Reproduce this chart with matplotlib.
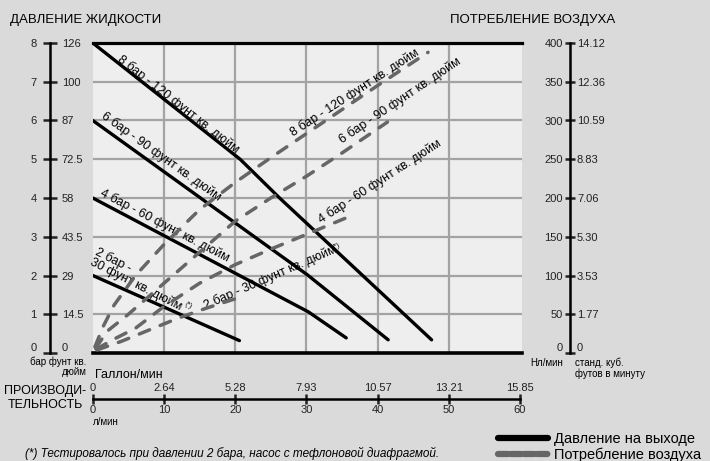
import matplotlib
matplotlib.use("Agg")
import matplotlib.pyplot as plt
from matplotlib.lines import Line2D

plt.rcParams["font.family"] = ["Liberation Sans", "DejaVu Sans"]

W, H = 710, 461

# scales
flow_lpm = [0, 10, 20, 30, 40, 50, 60]
flow_gpm = ["0", "2.64", "5.28", "7.93", "10.57", "13.21", "15.85"]
bar_ticks = [0, 1, 2, 3, 4, 5, 6, 7, 8]
psi_labels = ["0", "14.5", "29", "43.5", "58", "72.5", "87", "100", "126"]
air_ticks = [0, 50, 100, 150, 200, 250, 300, 350, 400]
scfm_labels = ["0", "1.77", "3.53", "5.30", "7.06", "8.83", "10.59", "12.36", "14.12"]

# outlet pressure curves (flow l/min, bar)
p8_flow = [0, 20.7, 26.3, 47.6]
p8_bar = [8, 5.0, 3.99, 0.34]
p6_flow = [0, 30.2, 41.5]
p6_bar = [6, 2.01, 0.34]
p4_flow = [0, 30.3, 35.6]
p4_bar = [4, 1.06, 0.39]
p2_flow = [0, 20.6]
p2_bar = [2, 0.32]

# air consumption curves (flow l/min, Nl/min)
a8_flow = [0.3, 1.5, 3, 6, 10, 15, 20, 25, 30, 35, 40, 47.1]
a8_air = [8, 35, 62, 100, 140, 185, 220, 252, 283, 314, 345, 388]
a6_flow = [0.4, 2, 5, 10, 15, 20, 25, 30, 35, 41.4]
a6_air = [6, 28, 50, 90, 130, 170, 200, 228, 258, 298]
a4_flow = [0.5, 3, 6, 10, 15, 20, 25, 30, 35.5]
a4_air = [5, 18, 32, 60, 90, 114, 134, 153, 174]
a2_flow = [0.6, 4, 8, 12, 16, 20.7]
a2_air = [4, 15, 30, 45, 58, 72]

BG = "#dadada"
PLOT_BG = "#eeeeee"
AIR = "#666666"
INK = "#222222"


def px_box(x0, y0, x1, y1):
    return [x0 / W, 1 - y1 / H, (x1 - x0) / W, (y1 - y0) / H]


def ftext(x, y, s, **kw):
    kw.setdefault("va", "center")
    return fig.text(x / W, 1 - y / H, s, **kw)


def bare(a):
    a.patch.set_visible(False)
    for s in a.spines.values():
        s.set_visible(False)


fig = plt.figure(figsize=(W / 100, H / 100), dpi=100, facecolor=BG)

# main chart
ax = fig.add_axes(px_box(92.8, 43, 522, 353))
ax.set_facecolor(PLOT_BG)
ax.set_xlim(0, 60.3)
ax.set_ylim(0, 8)
ax.set_xticks(flow_lpm[1:-1])
ax.set_yticks(bar_ticks[1:-1])
ax.grid(True, color="#a3a3a3", lw=1.6)
ax.set_axisbelow(True)
ax.tick_params(length=0, labelbottom=False, labelleft=False)
ax.spines["left"].set_visible(False)
ax.spines["right"].set_visible(False)
ax.spines["top"].set_linewidth(2.3)
ax.spines["bottom"].set_linewidth(2.6)

pk = dict(color="black", lw=2.4, solid_capstyle="round", zorder=3)
ax.plot(p8_flow, p8_bar, **pk)
ax.plot(p6_flow, p6_bar, **pk)
ax.plot(p4_flow, p4_bar, **pk)
ax.plot(p2_flow, p2_bar, **pk)

axA = ax.twinx()
axA.set_ylim(0, 400)
axA.axis("off")
ak = dict(color=AIR, lw=2.5, dash_capstyle="round", dashes=(3.2, 3.3))
axA.plot(a8_flow, a8_air, **ak)
axA.plot(a6_flow, a6_air, **ak)
axA.plot(a4_flow, a4_air, **ak)
axA.plot(a2_flow, a2_air, **ak)

# curve labels
lk = dict(fontsize=9, ha="center", va="center", rotation_mode="anchor", zorder=5)
ax.text(12.0, 6.43, "8 бар - 120 фунт кв. дюйм", rotation=-38, **lk)
ax.text(9.6, 5.06, "6 бар - 90 фунт кв. дюйм", rotation=-35.5, **lk)
ax.text(10.1, 3.28, "4 бар - 60 фунт кв. дюйм", rotation=-27.5, **lk)
ax.text(2.9, 2.4, "2 бар -", rotation=-27, **lk)
ax.text(6.1, 1.78, "30 фунт кв. дюйм", rotation=-27, **lk)
ax.text(13.4, 1.23, "(*)", fontsize=5, rotation=-27, ha="center", va="center")
ax.text(36.8, 6.71, "8 бар - 120 фунт кв. дюйм", rotation=33, **lk)
ax.text(43.1, 6.53, "6 бар - 90 фунт кв. дюйм", rotation=34, **lk)
ax.text(40.3, 4.44, "4 бар - 60 фунт кв. дюйм", rotation=33, **lk)
ax.text(24.9, 1.94, "2 бар - 30 фунт кв. дюйм", rotation=23.5, **lk)
ax.text(34.2, 2.74, "(*)", fontsize=5, rotation=23.5, ha="center", va="center")

# pressure scale (bar / psi)
axL = fig.add_axes(px_box(50, 43, 50.01, 353))
bare(axL)
axL.spines["left"].set_visible(True)
axL.spines["left"].set_linewidth(1.8)
axL.set_ylim(0, 8)
axL.set_xticks([])
axL.set_yticks(bar_ticks, labels=[str(b) for b in bar_ticks])
axL.tick_params(axis="y", direction="inout", length=10, width=1.8, pad=4.5,
                labelsize=8, colors=INK)
axL2 = axL.twinx()
bare(axL2)
axL2.set_ylim(0, 8)
axL2.set_yticks(bar_ticks, labels=psi_labels)
axL2.tick_params(axis="y", length=0, pad=8.5, labelsize=8, colors=INK)
# lift the zero labels clear of the unit caption
axL.get_yticklabels()[0].set_va("bottom")
axL2.get_yticklabels()[0].set_va("bottom")

# air scale (Nl/min / scfm)
axR = fig.add_axes(px_box(570, 43, 570.01, 353))
bare(axR)
axR.spines["left"].set_visible(True)
axR.spines["left"].set_linewidth(1.8)
axR.set_ylim(0, 400)
axR.set_xticks([])
axR.set_yticks(air_ticks, labels=[str(a) for a in air_ticks])
axR.tick_params(axis="y", direction="inout", length=7.5, width=1.8, pad=1.5,
                labelsize=8, colors=INK)
axR2 = axR.twinx()
bare(axR2)
axR2.set_ylim(0, 400)
axR2.set_yticks(air_ticks, labels=scfm_labels)
axR2.tick_params(axis="y", length=0, pad=5, labelsize=8, colors=INK)
axR.get_yticklabels()[0].set_va("bottom")
axR2.get_yticklabels()[0].set_va("bottom")

# flow scale (l/min / gal/min)
axB = fig.add_axes(px_box(92.8, 399, 92.8 + 427.2, 399.01))
bare(axB)
axB.spines["bottom"].set_visible(True)
axB.spines["bottom"].set_linewidth(1.8)
axB.set_xlim(0, 60)
axB.set_yticks([])
axB.set_xticks(flow_lpm, labels=[str(f) for f in flow_lpm])
axB.tick_params(axis="x", direction="inout", length=7, width=1.8, pad=1,
                labelsize=8, colors=INK)
axB2 = axB.twiny()
bare(axB2)
axB2.set_xlim(0, 60)
axB2.set_xticks(flow_lpm, labels=flow_gpm)
axB2.tick_params(axis="x", length=0, pad=4, labelsize=8, colors=INK)

# titles and unit captions
ftext(10, 20, "ДАВЛЕНИЕ ЖИДКОСТИ", fontsize=9.5)
ftext(615, 20, "ПОТРЕБЛЕНИЕ ВОЗДУХА", fontsize=9.5, ha="right")
ftext(30, 362, "бар фунт кв.", fontsize=7)
ftext(74, 372, "дюйм", fontsize=7, ha="center")
ftext(530, 363, "Нл/мин", fontsize=7)
ftext(575, 363, "станд. куб.", fontsize=7)
ftext(575, 374, "футов в минуту", fontsize=7)
ftext(95, 375, "Галлон/мин", fontsize=9)
ftext(93, 422, "л/мин", fontsize=7)
ftext(45, 398, "ПРОИЗВОДИ-\nТЕЛЬНОСТЬ", fontsize=9, ha="center",
      multialignment="center", linespacing=1.2)
ftext(25, 453, "(*) Тестировалось при давлении 2 бара, насос с тефлоновой диафрагмой.",
      fontsize=8.5, style="italic")

handles = [
    Line2D([], [], color="black", lw=4.5, solid_capstyle="round"),
    Line2D([], [], color=AIR, lw=4.5, dash_capstyle="round", dashes=(1.6, 0.5)),
]
fig.legend(handles, ["Давление на выходе", "Потребление воздуха"],
           loc="lower left", bbox_to_anchor=(498 / W, 1 - 462 / H),
           frameon=False, fontsize=10.5, handlelength=3.4, handletextpad=0.45,
           labelspacing=0.1, borderaxespad=0, borderpad=0)

fig.savefig("out.png", dpi=100, facecolor=BG)
